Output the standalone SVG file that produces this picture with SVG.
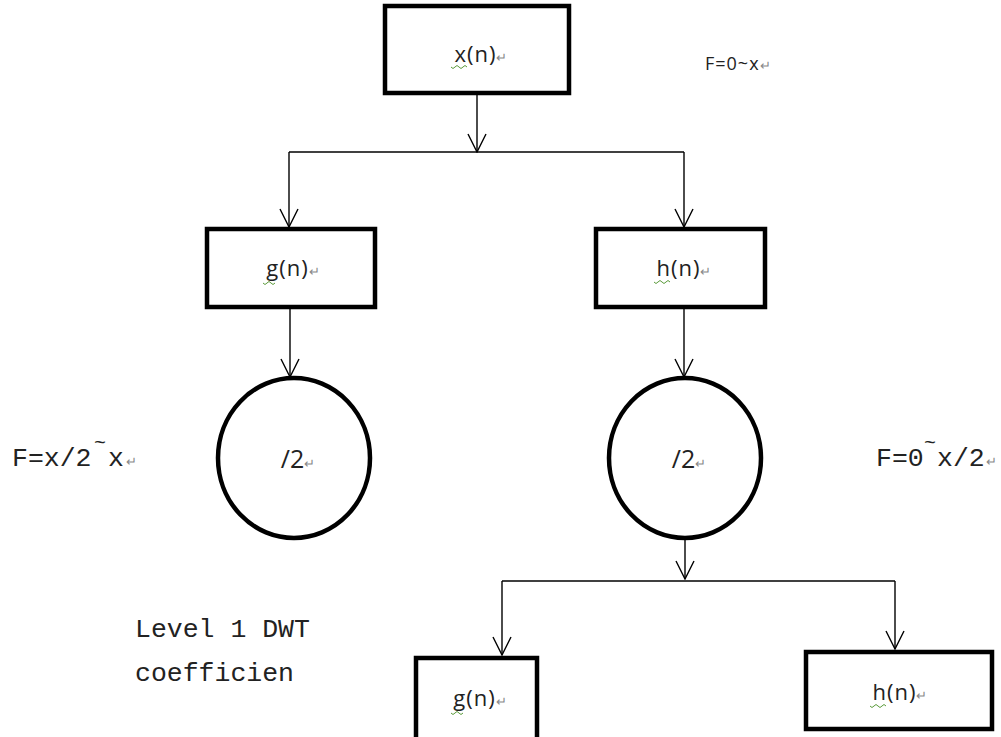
<svg xmlns="http://www.w3.org/2000/svg" width="1001" height="737" viewBox="0 0 1001 737">
<defs>
<style>
.box{fill:#fff;stroke:#000;stroke-width:4.5}
.ell{fill:#fff;stroke:#000;stroke-width:4.5}
.ln{fill:none;stroke:#000;stroke-width:1.4}
.lbl{font-family:"Open Sans","Liberation Sans",sans-serif;font-size:22px;fill:#222;text-anchor:middle;letter-spacing:1px}
.div{font-family:"Open Sans","Liberation Sans",sans-serif;font-size:25px;fill:#222;text-anchor:middle}
.sm{font-family:"Open Sans","Liberation Sans",sans-serif;font-size:18px;fill:#222;letter-spacing:1px}
.mono{font-family:"Liberation Mono",monospace;font-size:26.5px;fill:#222}
.til{font-family:"Liberation Mono",monospace;font-size:20px;fill:#222}
.ret{fill:#888;font-size:13px;letter-spacing:0}
.rt{font-family:"Open Sans","Liberation Sans",sans-serif;fill:#888;font-size:13px}
.wav{fill:none;stroke:#5a9a3a;stroke-width:1}
</style>
<marker id="ah" viewBox="0 0 20 20" refX="19" refY="10" markerWidth="20" markerHeight="20" markerUnits="userSpaceOnUse" orient="auto">
<path d="M1,1 L19,10 L1,19" fill="none" stroke="#000" stroke-width="1.4"/>
</marker>
</defs>
<rect width="1001" height="737" fill="#fff"/>
<g id="connectors">
<path class="ln" d="M477,94 V152" marker-end="url(#ah)"/>
<path class="ln" d="M289,152 H684"/>
<path class="ln" d="M289,152 V227" marker-end="url(#ah)"/>
<path class="ln" d="M684,152 V227" marker-end="url(#ah)"/>
<path class="ln" d="M290,308 V377" marker-end="url(#ah)"/>
<path class="ln" d="M684,308 V377" marker-end="url(#ah)"/>
<path class="ln" d="M685,540 V579" marker-end="url(#ah)"/>
<path class="ln" d="M502,581 H895"/>
<path class="ln" d="M502,581 V655" marker-end="url(#ah)"/>
<path class="ln" d="M895,581 V649" marker-end="url(#ah)"/>
</g>
<g id="node-xn">
<rect class="box" x="385" y="6" width="184" height="87"/>
<text class="lbl" x="481" y="62">x(n)<tspan class="ret">↵</tspan></text>
<path class="wav" d="M451,67 q2,3 4,0 t4,0 t4,0 t4,0"/>
</g>
<g id="label-f0x">
<text class="sm" x="705" y="70">F=0~x<tspan class="ret">↵</tspan></text>
</g>
<g id="node-gn">
<rect class="box" x="207" y="229" width="168" height="78"/>
<text class="lbl" x="293" y="276">g(n)<tspan class="ret">↵</tspan></text>
<path class="wav" d="M263,283 q2,3 4,0 t4,0 t4,0"/>
</g>
<g id="node-hn">
<rect class="box" x="596" y="229" width="169" height="78"/>
<text class="lbl" x="684" y="276">h(n)<tspan class="ret">↵</tspan></text>
<path class="wav" d="M654,282 q2,3 4,0 t4,0 t4,0 t4,0"/>
</g>
<g id="node-down1">
<ellipse class="ell" cx="294" cy="458" rx="76" ry="80"/>
<text class="div" x="298" y="468">/2<tspan class="ret">↵</tspan></text>
</g>
<g id="node-down2">
<ellipse class="ell" cx="685" cy="458" rx="76" ry="80"/>
<text class="div" x="689" y="468">/2<tspan class="ret">↵</tspan></text>
</g>
<g id="label-fx2x">
<text class="mono" x="12" y="466">F=x/2</text>
<text class="til" x="94" y="449">~</text>
<text class="mono" x="108" y="466">x</text>
<text class="rt" x="126" y="466">↵</text>
</g>
<g id="label-f0x2">
<text class="mono" x="876" y="466">F=0</text>
<text class="til" x="924" y="449">~</text>
<text class="mono" x="937" y="466">x/2</text>
<text class="rt" x="986" y="466">↵</text>
</g>
<g id="label-level">
<text class="mono" x="135" y="637">Level 1 DWT</text>
<text class="mono" x="135" y="681">coefficien</text>
</g>
<g id="node-gn2">
<rect class="box" x="416" y="658" width="121" height="84"/>
<text class="lbl" x="480" y="706">g(n)<tspan class="ret">↵</tspan></text>
<path class="wav" d="M451,713 q2,3 4,0 t4,0 t4,0"/>
</g>
<g id="node-hn2">
<rect class="box" x="806" y="652" width="186" height="77"/>
<text class="lbl" x="900" y="700">h(n)<tspan class="ret">↵</tspan></text>
<path class="wav" d="M870,706 q2,3 4,0 t4,0 t4,0 t4,0"/>
</g>
</svg>
